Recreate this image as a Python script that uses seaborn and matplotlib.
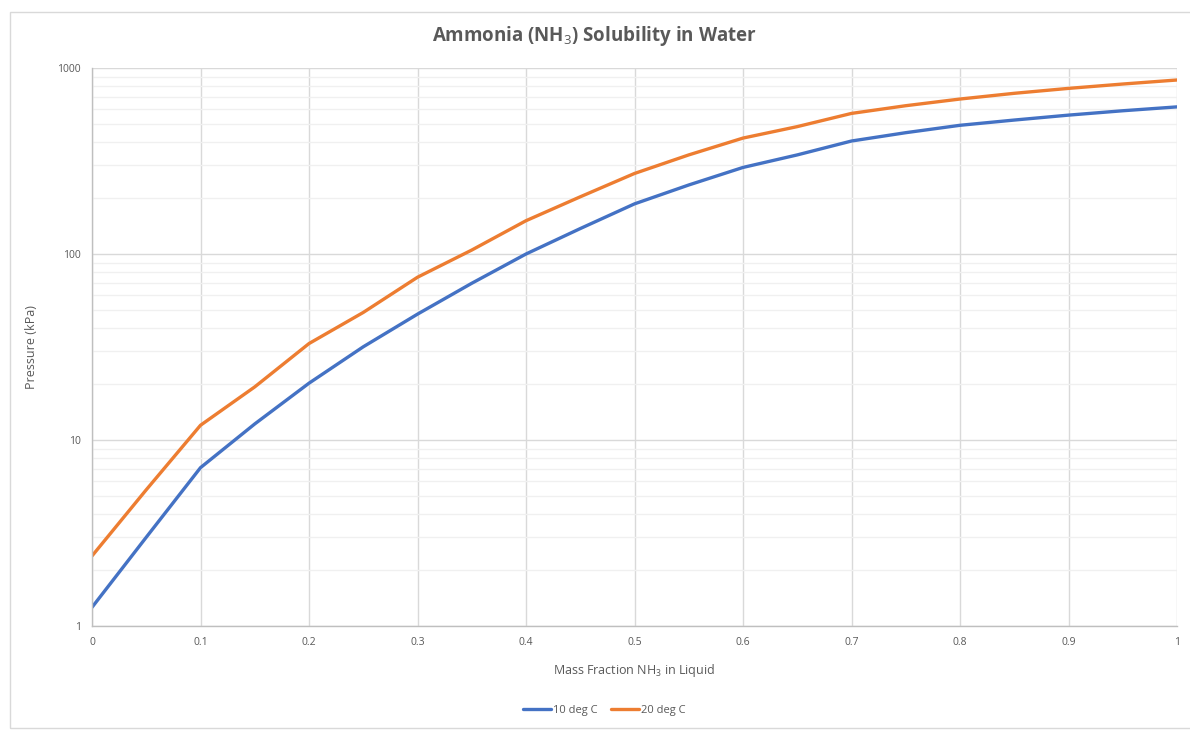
import matplotlib
matplotlib.use("Agg")
import matplotlib.pyplot as plt
import matplotlib.patches as mpatches
from matplotlib.ticker import FixedLocator, FixedFormatter, LogLocator, NullFormatter
import seaborn as sns
import pandas as pd
import numpy as np

mass_fraction = [0.0, 0.05, 0.1, 0.15, 0.2, 0.25, 0.3, 0.35, 0.4, 0.45, 0.5,
                 0.55, 0.6, 0.65, 0.7, 0.75, 0.8, 0.85, 0.9, 0.95, 1.0]
p_10C = [1.26, 3.0, 7.1, 12.2, 20.2, 31.7, 47.5, 69.6, 100, 137, 186,
         235, 292, 341, 405, 449, 492, 525, 558, 589, 618]
p_20C = [2.38, 5.4, 12.0, 19.3, 33.0, 48.5, 75, 105, 151, 203, 271,
         341, 420, 484, 570, 627, 681, 731, 777, 820, 862]
series_names = ["10 deg C", "20 deg C"]
series_colors = ["#4472C4", "#ED7D31"]
x_ticks = [0, 0.1, 0.2, 0.3, 0.4, 0.5, 0.6, 0.7, 0.8, 0.9, 1]
x_tick_labels = ["0", "0.1", "0.2", "0.3", "0.4", "0.5", "0.6", "0.7", "0.8", "0.9", "1"]
y_ticks = [1, 10, 100, 1000]
y_tick_labels = ["1", "10", "100", "1000"]

df = pd.concat([
    pd.DataFrame({"x": mass_fraction, "p": p_10C, "series": series_names[0]}),
    pd.DataFrame({"x": mass_fraction, "p": p_20C, "series": series_names[1]}),
])

sns.set_theme(style="white")
FONT = "Open Sans"
plt.rcParams["font.family"] = [FONT, "DejaVu Sans"]
plt.rcParams["mathtext.fontset"] = "custom"
plt.rcParams["mathtext.rm"] = FONT
plt.rcParams["mathtext.it"] = FONT
plt.rcParams["mathtext.bf"] = FONT + ":bold"

fig = plt.figure(figsize=(11.9, 7.3), dpi=100)
fig.patch.set_facecolor("white")
# outer chart border
fig.patches.append(mpatches.Rectangle((10/1190, 2/730), 1.0, 716/730, transform=fig.transFigure,
                                      fill=False, edgecolor="#d9d9d9", linewidth=1.0))
ax = fig.add_axes([92/1190, 1-626/730, (1177-92)/1190, (626-68)/730])

sns.lineplot(data=df, x="x", y="p", hue="series", palette=series_colors,
             linewidth=2.4, ax=ax, legend=False, sort=True)
for ln in ax.lines:
    ln.set_solid_joinstyle("round")
    ln.set_solid_capstyle("round")

ax.set_yscale("log")
ax.set_xlim(0, 1)
ax.set_ylim(1, 1000)
ax.xaxis.set_major_locator(FixedLocator(x_ticks))
ax.xaxis.set_major_formatter(FixedFormatter(x_tick_labels))
ax.yaxis.set_major_locator(FixedLocator(y_ticks))
ax.yaxis.set_major_formatter(FixedFormatter(y_tick_labels))
ax.yaxis.set_minor_locator(LogLocator(base=10, subs=np.arange(2, 10)))
ax.yaxis.set_minor_formatter(NullFormatter())

ax.grid(True, which="major", axis="both", color="#d9d9d9", linewidth=1.0)
ax.grid(True, which="minor", axis="y", color="#f0f0f0", linewidth=1.0)
ax.set_axisbelow(True)
for s in ["top", "right"]:
    ax.spines[s].set_visible(False)
for s in ["left", "bottom"]:
    ax.spines[s].set_color("#bfbfbf")
    ax.spines[s].set_linewidth(1.0)

ax.tick_params(axis="both", which="major", labelsize=7.5, labelcolor="#595959",
               length=0, pad=8)
ax.tick_params(axis="y", which="major", length=4, color="#bfbfbf", direction="out", pad=4)
ax.tick_params(axis="y", which="minor", length=0)

ax.set_xlabel("Mass Fraction NH$_3$ in Liquid", fontsize=9, color="#595959", labelpad=10)
ax.set_ylabel("Pressure (kPa)", fontsize=9, color="#595959", labelpad=0)
ax.yaxis.set_label_coords((38 - 92) / (1177 - 92), 0.5)

fig.text(0.5, 1-36/730, "Ammonia (NH$_3$) Solubility in Water", ha="center", va="center",
         fontsize=13.5, fontweight="bold", color="#595959")

handles = [plt.Line2D([], [], color=c, linewidth=2.4) for c in series_colors]
fig.legend(handles, series_names, loc="center", bbox_to_anchor=(0.508, 1-710/730),
           ncol=2, frameon=False, fontsize=8, labelcolor="#595959",
           handlelength=2.5, handletextpad=0.2, columnspacing=1.2)

fig.savefig("out.png", dpi=100, facecolor="white")
